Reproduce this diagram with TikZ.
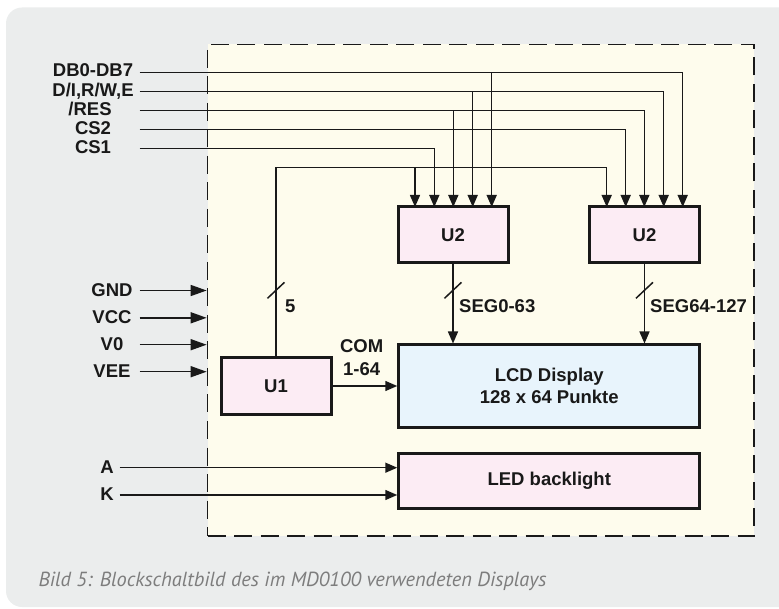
\documentclass[tikz,border=0pt]{standalone}
\usepackage{fontspec}
\setmainfont{Liberation Sans}
\newfontfamily\capfont{PT Sans}
\usetikzlibrary{arrows.meta,calc}
\definecolor{bggray}{RGB}{235,237,237}
\definecolor{cream}{RGB}{254,252,237}
\definecolor{pinkbox}{RGB}{252,236,244}
\definecolor{bluebox}{RGB}{232,244,252}
\definecolor{capgray}{RGB}{125,125,125}
\definecolor{ink}{RGB}{25,25,25}
\begin{document}
\begin{tikzpicture}[x=1pt,y=-1pt,
  every node/.style={font=\fontsize{18.5}{22.3}\selectfont\bfseries, inner sep=0pt, text=ink},
  blk/.style={draw=ink, line width=3pt, minimum width=110pt, minimum height=56pt, fill=pinkbox},
  sig/.style={draw=ink, line width=1.5pt},
  arr/.style={sig, -{Triangle[length=12pt,width=10pt]}},
  parr/.style={sig, -{Triangle[length=16pt,width=11pt]}},
  lbl/.style={anchor=base},
  lblw/.style={anchor=base west},
]
\useasboundingbox (0,0) rectangle (779,609);
\fill[bggray, rounded corners=16pt] (6,7.5) rectangle (800,607);
\node[draw=ink, fill=cream, line width=1.7pt, dash pattern=on 18pt off 8.5pt,
      minimum width=546.5pt, minimum height=491.5pt] (frame) at (480.75,290.25) {};

% blocks
\node[blk] (u2a) at (453,235) {U2};
\node[blk] (u2b) at (644.5,235) {U2};
\node[blk] (u1) at (276,386) {U1};
\node[blk, fill=bluebox, minimum width=301pt, minimum height=82pt, align=center] (lcd) at (549.25,386) {LCD Display\\128 x 64 Punkte};
\node[blk, minimum width=301pt, minimum height=54.5pt] (led) at (549.25,481) {LED backlight};

% signal labels
\node[lbl] (lDB) at (93,77) {DB0-DB7};
\node[lbl] (lDI) at (93,97) {D/I,R/W,E};
\node[lbl] (lRES) at (90,116) {/RES};
\node[lbl] (lCS2) at (93,135) {CS2};
\node[lbl] (lCS1) at (93,154) {CS1};

\coordinate (sDB) at (139.5,72.5);
\coordinate (sDI) at (139.5,91.5);
\coordinate (sRES) at (139.5,110.5);
\coordinate (sCS2) at (139.5,129.5);
\coordinate (sCS1) at (139.5,148.5);
\coordinate (busY) at (0,167.3);

\coordinate (ta1) at (415,207);
\coordinate (ta2) at (434.3,207);
\coordinate (ta3) at (453.3,207);
\coordinate (ta4) at (472.7,207);
\coordinate (ta5) at (491.7,207);
\coordinate (tb1) at (606.7,207);
\coordinate (tb2) at (625.7,207);
\coordinate (tb3) at (644.3,207);
\coordinate (tb4) at (663.7,207);
\coordinate (tb5) at (682.7,207);

\draw[arr] (sDB) -| (tb5);
\draw[arr] (sDB -| ta5) -- (ta5);
\draw[arr] (sDI) -| (tb4);
\draw[arr] (sDI -| ta4) -- (ta4);
\draw[arr] (sRES) -| (tb3);
\draw[arr] (sRES -| ta3) -- (ta3);
\draw[arr] (sCS2) -| (tb2);
\draw[arr] (sCS1) -| (ta2);
\draw[arr] (u1.north) -- (u1.north |- busY) -| (tb1);
\draw[arr] (ta1 |- busY) -- (ta1);

% bus slashes and labels
\draw[sig] ($(u1.north |- 0,290.3)+(-8.5,8)$) -- ++(17,-16);
\node[lblw] (l5) at (285,313) {5};
\draw[arr] (u2a.south) -- (u2a.south |- lcd.north);
\draw[sig] ($(u2a.south |- 0,290.3)+(-8.5,8)$) -- ++(17,-16);
\node[lblw] (lseg1) at (459,313) {SEG0-63};
\draw[arr] (u2b.south) -- (u2b.south |- lcd.north);
\draw[sig] ($(u2b.south |- 0,290.3)+(-8.5,8)$) -- ++(17,-16);
\node[lblw] (lseg2) at (650,313) {SEG64-127};

\draw[arr] (u1.east) -- (u1.east -| lcd.west);
\node[lbl] (lcom) at (361.7,353) {COM};
\node[lbl] (lcom2) at (361.7,376) {1-64};

% power inputs
\node[lbl] (lGND) at (112,296.5) {GND};
\node[lbl] (lVCC) at (112,323.5) {VCC};
\node[lbl] (lV0) at (112,350.5) {V0};
\node[lbl] (lVEE) at (112,377.5) {VEE};
\coordinate (sGND) at (139.5,290.5);
\coordinate (sVCC) at (139.5,317.8);
\coordinate (sV0) at (139.5,344.7);
\coordinate (sVEE) at (139.5,371.7);
\draw[parr] (sGND) -- (sGND -| frame.west);
\draw[parr] (sVCC) -- (sVCC -| frame.west);
\draw[parr] (sV0) -- (sV0 -| frame.west);
\draw[parr] (sVEE) -- (sVEE -| frame.west);

% backlight
\node[lbl] (lA) at (107,473.3) {A};
\node[lbl] (lK) at (107,500.6) {K};
\coordinate (sA) at (119.5,467.7);
\coordinate (sK) at (119.5,495);
\draw[arr] (sA) -- (sA -| led.west);
\draw[arr] (sK) -- (sK -| led.west);

% caption
\node[anchor=base west, font=\capfont\itshape\fontsize{20.4}{24}\selectfont, text=capgray] (cap) at (38.3,586)
  {Bild 5: Blockschaltbild des im MD0100 verwendeten Displays};
\end{tikzpicture}
\end{document}
